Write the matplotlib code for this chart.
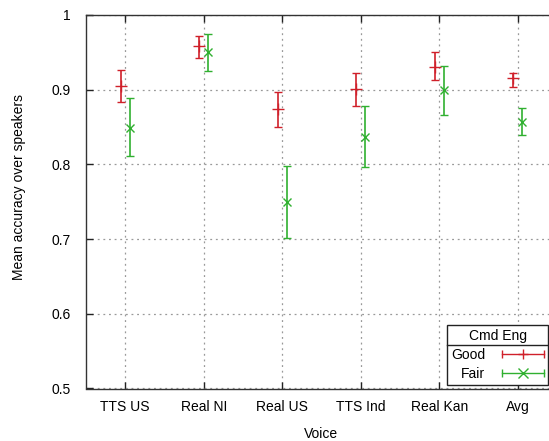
import matplotlib
matplotlib.use("Agg")
import matplotlib.pyplot as plt
from matplotlib.legend_handler import HandlerBase
from matplotlib.lines import Line2D
import numpy as np

plt.rcParams['font.family'] = ['Liberation Sans', 'DejaVu Sans']

# Data.
voices = ["TTS US", "Real NI", "Real US", "TTS Ind", "Real Kan", "Avg"]

good_mean = [0.905, 0.958, 0.874, 0.901, 0.931, 0.915]
good_low = [0.883, 0.943, 0.850, 0.878, 0.913, 0.903]
good_high = [0.927, 0.972, 0.897, 0.922, 0.950, 0.923]

fair_mean = [0.849, 0.950, 0.750, 0.837, 0.900, 0.857]
fair_low = [0.811, 0.925, 0.702, 0.797, 0.866, 0.839]
fair_high = [0.889, 0.975, 0.798, 0.878, 0.932, 0.875]

RED = "#d0202a"
GREEN = "#30b030"


class ErrorbarKeyHandler(HandlerBase):
    # gnuplot style key: horizontal bar with end caps and the point in the middle
    def create_artists(self, legend, orig_handle, xdescent, ydescent,
                       width, height, fontsize, trans):
        y = 0.5 * height - ydescent
        x0 = -xdescent
        x1 = width - xdescent
        color = orig_handle.get_color()
        bar = Line2D([x0, x1], [y, y], color=color, lw=1.0)
        caps = Line2D([x0, x1], [y, y], ls="none", marker="|", ms=6,
                      mew=1.0, color=color)
        mid = Line2D([(x0 + x1) / 2], [y], ls="none",
                     marker=orig_handle.get_marker(), ms=7, mew=1.0,
                     color=color)
        for a in (bar, caps, mid):
            a.set_transform(trans)
        return [bar, caps, mid]


def run():
    fig = plt.figure(figsize=(5.49, 4.41), dpi=100)
    ax = fig.add_axes([86 / 549, 52.5 / 441, 471 / 549, 373.5 / 441])

    x = np.arange(1, len(voices) + 1)
    shift = 0.055

    gm = np.array(good_mean)
    fm = np.array(fair_mean)
    good_err = [gm - np.array(good_low), np.array(good_high) - gm]
    fair_err = [fm - np.array(fair_low), np.array(fair_high) - fm]

    eb_good = ax.errorbar(x - shift, gm, yerr=good_err, fmt="+", color=RED,
                          ms=8, mew=1.0, elinewidth=1.2, capsize=3,
                          capthick=1.0)
    eb_fair = ax.errorbar(x + shift, fm, yerr=fair_err, fmt="x", color=GREEN,
                          ms=6, mew=1.0, elinewidth=1.2, capsize=3,
                          capthick=1.0)

    ax.set_xlim(0.5, 6.5)
    ax.set_ylim(0.5, 1.0)
    ax.set_xticks(x)
    ax.set_xticklabels(voices)
    ax.set_yticks([0.5, 0.6, 0.7, 0.8, 0.9, 1.0])
    ax.set_yticklabels(["0.5", "0.6", "0.7", "0.8", "0.9", "1"])

    ax.grid(True, color="#999999", linestyle=(0, (1.5, 3)), linewidth=0.9)
    ax.set_axisbelow(True)
    ax.tick_params(direction="in", top=True, right=True, length=5,
                   width=1, labelsize=10, color="#222222")
    ax.tick_params(axis="x", pad=8)
    ax.tick_params(axis="y", pad=11)
    for s in ax.spines.values():
        s.set_color("#333333")
        s.set_linewidth(1.0)

    ax.set_xlabel("Voice", fontsize=10)
    ax.set_ylabel("Mean accuracy over speakers", fontsize=10)
    ax.xaxis.set_label_coords(0.5, -0.102)
    ax.yaxis.set_label_coords(-0.127, 0.54)

    leg = ax.legend([eb_good[0], eb_fair[0]], ["Good", "Fair"],
                    title="Cmd Eng", title_fontsize=10, fontsize=10,
                    handler_map={Line2D: ErrorbarKeyHandler()},
                    markerfirst=False, handlelength=3.0, handletextpad=1.2,
                    loc="lower right", bbox_to_anchor=(548 / 549, 56 / 441),
                    bbox_transform=fig.transFigure, borderaxespad=0,
                    fancybox=False, framealpha=1, edgecolor="#222222",
                    borderpad=0.3, labelspacing=0.35)
    leg.get_frame().set_linewidth(1.0)

    # separator line below the key title
    fig.canvas.draw()
    renderer = fig.canvas.get_renderer()
    fb = leg.get_window_extent(renderer)
    tb = leg.get_title().get_window_extent(renderer)
    ysep = tb.y0 - 2
    inv = fig.transFigure.inverted()
    (fx0, fy), (fx1, _) = inv.transform([(fb.x0, ysep), (fb.x1, ysep)])
    fig.add_artist(Line2D([fx0, fx1], [fy, fy], transform=fig.transFigure,
                          color="#222222", lw=1.0))

    fig.savefig("out.png", dpi=100)


def main():
    run()


if __name__ == '__main__':
    main()
